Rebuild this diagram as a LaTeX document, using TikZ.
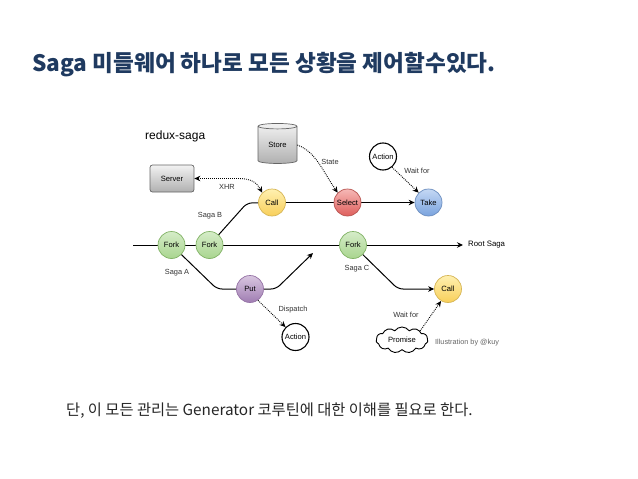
\documentclass[tikz,border=0pt]{standalone}
\usepackage{fontspec}
\setmainfont{Liberation Sans}
\newfontfamily\krfont{Noto Sans CJK KR}
\usetikzlibrary{shapes.geometric,shapes.symbols,arrows.meta,backgrounds}
\definecolor{titlecol}{HTML}{1F3A60}
\definecolor{gstroke}{HTML}{82B366}
\definecolor{gtop}{HTML}{D5ECC8}
\definecolor{gbot}{HTML}{A9D58F}
\definecolor{ystroke}{HTML}{D6B656}
\definecolor{ytop}{HTML}{FFF0B0}
\definecolor{ybot}{HTML}{F8CF5A}
\definecolor{rstroke}{HTML}{B85450}
\definecolor{rtop}{HTML}{F6B8B6}
\definecolor{rbot}{HTML}{DE5F5C}
\definecolor{bstroke}{HTML}{6C8EBF}
\definecolor{btop}{HTML}{C4D8F4}
\definecolor{bbot}{HTML}{7AA3DE}
\definecolor{pstroke}{HTML}{9673A6}
\definecolor{ptop}{HTML}{D8C6E0}
\definecolor{pbot}{HTML}{A07DB2}
\definecolor{graytop}{HTML}{F2F2F2}
\definecolor{graybot}{HTML}{B0B0B0}
\definecolor{graystroke}{HTML}{666666}
\begin{document}
\begin{tikzpicture}[x=1pt,y=-1pt,
  lbl/.style={font=\fontsize{7.4}{8.5}\selectfont, text=black!80, inner sep=1pt},
  circ/.style={circle, minimum size=27pt, inner sep=0pt, line width=0.7pt, font=\fontsize{7.6}{8.5}\selectfont},
  gnode/.style={circ, draw=gstroke, top color=gtop, bottom color=gbot},
  ynode/.style={circ, draw=ystroke, top color=ytop, bottom color=ybot},
  rnode/.style={circ, draw=rstroke, top color=rtop, bottom color=rbot},
  bnode/.style={circ, draw=bstroke, top color=btop, bottom color=bbot},
  pnode/.style={circ, draw=pstroke, top color=ptop, bottom color=pbot},
  anode/.style={circ, draw=black, fill=white, line width=1.1pt},
  flow/.style={line width=1pt, rounded corners=5pt},
  tip/.style={-{Stealth[length=6pt,width=5.5pt]}},
  dotln/.style={dash pattern=on 0.9pt off 1.1pt, line width=0.9pt},
]
\useasboundingbox (0,0) rectangle (638,479);

% texts
\node[anchor=west, inner sep=0pt, font=\krfont\bfseries\fontsize{22.6}{27}\selectfont, text=titlecol] (title) at (32,65) {Saga 미들웨어 하나로 모든 상황을 제어할수있다.};
\node[anchor=west, inner sep=0pt, font=\krfont\fontsize{15.3}{18}\selectfont, text=black!85] (sub) at (66,411) {단, 이 모든 관리는 Generator 코루틴에 대한 이해를 필요로 한다.};
\node[anchor=west, inner sep=0pt, font=\fontsize{12}{14}\selectfont] (rs) at (145,136) {redux-saga};

% nodes
\node[cylinder, shape border rotate=90, aspect=0.3, minimum width=39pt, minimum height=40pt, inner sep=0pt,
      draw=graystroke, line width=0.7pt, top color=graytop, bottom color=graybot, font=\fontsize{7.6}{8.5}\selectfont] (store) at (277.5,145) {Store};
\node[rectangle, rounded corners=2.5pt, minimum width=44pt, minimum height=27pt, inner sep=0pt,
      draw=graystroke, line width=0.7pt, top color=graytop, bottom color=graybot, font=\fontsize{7.6}{8.5}\selectfont] (server) at (172,178.5) {Server};
\node[ynode] (call) at (272,202.5) {Call};
\node[rnode] (select) at (347.5,202.5) {Select};
\node[bnode] (take) at (428.5,202.5) {Take};
\node[anode] (act1) at (383,156.5) {Action};
\node[gnode] (fork1) at (171.5,245) {Fork};
\node[gnode] (fork2) at (209.5,245) {Fork};
\node[gnode] (fork3) at (353,245) {Fork};
\node[pnode] (put) at (250,289) {Put};
\node[anode] (act2) at (295.5,337) {Action};
\node[ynode] (call2) at (448,289) {Call};
\node[cloud, cloud puffs=11, cloud puff arc=110, aspect=2.2, minimum width=52pt, minimum height=26pt, inner sep=0pt,
      draw=black, line width=0.9pt, fill=white, font=\fontsize{7.6}{8.5}\selectfont] (promise) at (402,340) {Promise};

\coordinate (mainstart) at (133,245);
\coordinate (mainend) at (463,245);
\coordinate (putend) at (313,253);

\begin{pgfonlayer}{background}
\fill[white] (0,0) rectangle (638,479);
\draw[flow, tip] (mainstart) -- (mainend);
\draw[flow] (fork2.center) -- (247,203) -- (call.center);
\draw[flow] (call) -- (select);
\draw[flow, tip] (select) -- (take);
\draw[flow] (fork1.center) -- (217,289) -- (put.center);
\draw[flow, tip] (put.center) -- (276,289) -- (putend);
\draw[flow, tip] (fork3.center) -- (398,289) -- (call2);
\end{pgfonlayer}

% dotted connectors
\draw[dotln, {Stealth[length=6pt,width=5.5pt]}-{Stealth[length=6pt,width=5.5pt]}] (server.east) -- (238,178.5) .. controls (252,178.5) and (257,183) .. (call.north west);
\draw[dotln, tip] (store.east) .. controls (316,152) and (322,170) .. (select.north west);
\draw[dotln, tip] (act1.-50) -- (take.north west);
\draw[dotln, tip] (put.-55) -- (act2.north west);
\draw[dotln, tip] (promise.north east) -- (call2.240);

% labels
\node[anchor=west, inner sep=0pt, font=\fontsize{7.8}{9}\selectfont] (rootlbl) at (468,245) {Root Saga};
\node[lbl] (xhr) at (227,187) {XHR};
\node[lbl] (state) at (330,162) {State};
\node[lbl] (wait1) at (417,170.5) {Wait for};
\node[lbl] (sagab) at (210,216) {Saga B};
\node[lbl] (sagaa) at (177,273) {Saga A};
\node[lbl] (dispatch) at (293,310) {Dispatch};
\node[lbl] (sagac) at (357,269) {Saga C};
\node[lbl] (wait2) at (406,315) {Wait for};
\node[lbl, anchor=west, text=black!60, font=\fontsize{7.3}{8.5}\selectfont] (illu) at (434,343) {Illustration by @kuy};
\end{tikzpicture}
\end{document}
